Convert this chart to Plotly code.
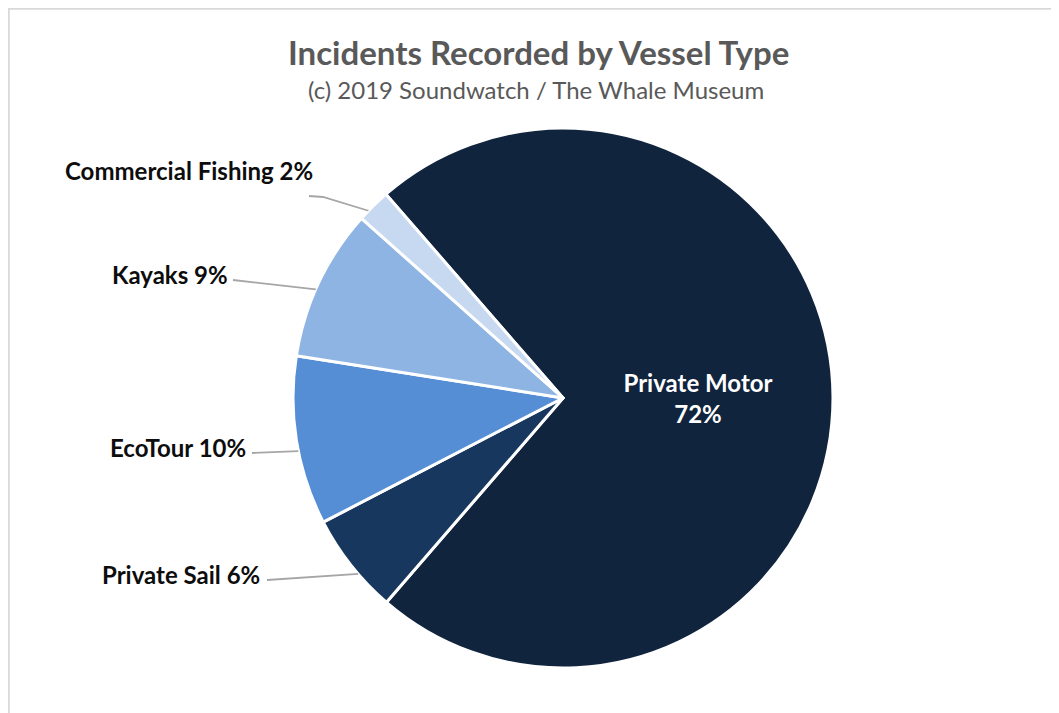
import math
import plotly.graph_objects as go

# ---- data ----
categories = ["Private Motor", "Private Sail", "EcoTour", "Kayaks", "Commercial Fishing"]
values = [72, 6, 10, 9, 2]
pct_labels = ["72%", "6%", "10%", "9%", "2%"]
colors = ["#10243e", "#17375e", "#558ed5", "#8eb4e3", "#c6d9f1"]

title_text = "Incidents Recorded by Vessel Type"
subtitle_text = "(c) 2019 Soundwatch / The Whale Museum"

# ---- layout geometry (page pixels; page body has an 8px margin) ----
OFF = 8
W, H = 1059 - OFF, 713 - OFF
cx, cy, R = 563, 398, 270
rotation = -41  # start angle of first slice (clockwise from 12 o'clock)

def px(x):
    return (x - OFF) / W

def py(y):
    return 1 - (y - OFF) / H

dom_x = [px(cx - R), px(cx + R)]
dom_y = [py(cy + R), py(cy - R)]

texttemplates = ["<b>%{label}<br>%{customdata}</b>"] + [""] * (len(categories) - 1)

fig = go.Figure(go.Pie(
    labels=categories,
    values=values,
    customdata=pct_labels,
    texttemplate=texttemplates,
    textposition="inside",
    insidetextorientation="horizontal",
    textfont=dict(family="Lato", size=24, color="white"),
    marker=dict(colors=colors, line=dict(color="white", width=3)),
    sort=False,
    direction="clockwise",
    rotation=rotation,
    showlegend=False,
    hoverinfo="label+percent",
    domain=dict(x=dom_x, y=dom_y),
))

# outside labels with leader lines (label placement = style)
# text right edge x, text centre y, leader tail points, anchor fraction within slice
label_pos = {
    "Private Sail": (262, 574, [(267, 580)], 0.39),
    "EcoTour": (248, 447, [(252, 453)], 0.44),
    "Kayaks": (230, 274, [(233, 280)], 0.45),
    "Commercial Fishing": (315, 170, [(309, 196), (323, 197)], 0.3),
}

total = sum(values)
cum = 0
annotations = []
shapes = []
for cat, v, p in zip(categories, values, pct_labels):
    start = cum
    cum += v
    if cat not in label_pos:
        continue
    tx, ty, tail, frac = label_pos[cat]
    ang = math.radians(rotation + (start + v * frac) / total * 360)
    ex = cx + R * math.sin(ang)
    ey = cy - R * math.cos(ang)
    pts = tail + [(ex, ey)]
    path = "M " + " L ".join(f"{px(a)},{py(b)}" for a, b in pts)
    shapes.append(dict(type="path", xref="paper", yref="paper", path=path,
                       line=dict(color="#a6a6a6", width=1.8)))
    annotations.append(dict(x=px(tx), y=py(ty), xref="paper", yref="paper",
                            text=f"<b>{cat} {p}</b>", showarrow=False,
                            xanchor="right", yanchor="middle",
                            font=dict(family="Lato", size=24, color="#0d0d0d")))

annotations.append(dict(x=px(538), y=py(52), xref="paper", yref="paper",
                        text=f"<b>{title_text}</b>", showarrow=False,
                        xanchor="center", yanchor="middle",
                        font=dict(family="Lato", size=33, color="#595959")))
annotations.append(dict(x=px(536), y=py(89), xref="paper", yref="paper",
                        text=subtitle_text, showarrow=False,
                        xanchor="center", yanchor="middle",
                        font=dict(family="Lato", size=24, color="#595959")))

# chart area border (top and left edges visible)
shapes.append(dict(type="rect", xref="paper", yref="paper",
                   x0=px(8.5), x1=1.02, y0=-0.02, y1=py(8.5),
                   line=dict(color="#d9d9d9", width=2.5), fillcolor="rgba(0,0,0,0)"))

fig.update_layout(
    width=W, height=H,
    margin=dict(l=0, r=0, t=0, b=0),
    paper_bgcolor="white",
    plot_bgcolor="white",
    annotations=annotations,
    shapes=shapes,
    font=dict(family="Lato"),
)

fig.write_html("out.html")
